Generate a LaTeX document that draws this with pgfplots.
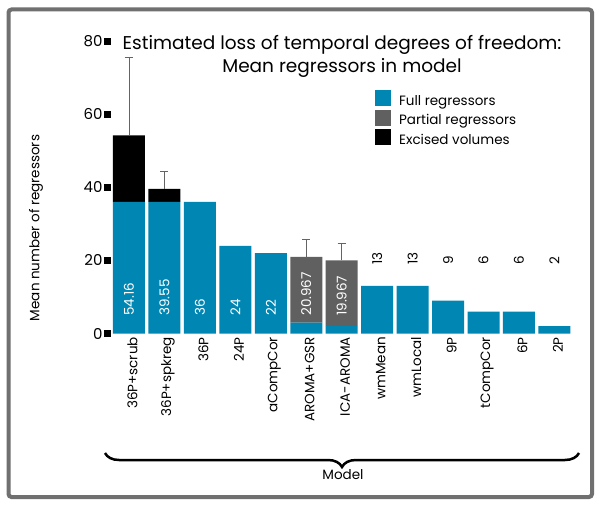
\documentclass[border=0pt]{standalone}
\usepackage{pgfplots}
\pgfplotsset{compat=1.18}
\usepackage{fontspec}
\setmainfont{Poppins}
\usetikzlibrary{decorations.pathreplacing}
\definecolor{fullc}{RGB}{0,134,179}
\definecolor{partc}{RGB}{96,96,96}
\definecolor{framec}{RGB}{112,112,112}
\definecolor{errc}{RGB}{100,100,100}

\begin{document}
\begin{tikzpicture}[x=1pt,y=1pt]
\fill[white] (0,0) rectangle (604,506);
\useasboundingbox (0,0) rectangle (604,506);
\draw[framec, line width=4pt, rounded corners=3pt] (8.5,9) rectangle (592,496.5);

\pgfplotsset{mybase/.style={
  at={(107.7pt,172.5pt)}, anchor=south west,
  scale only axis, width=468pt, height=292.5pt,
  xmin=-0.6, xmax=12.6, ymin=0, ymax=80,
  clip=false,
  axis line style={draw=none},
  /pgf/number format/assume math mode=true,
}}

\begin{axis}[mybase, ybar stacked, bar width=32pt,
  axis y line*=left, axis x line*=bottom,
  xtick={0,...,12},
  xtick style={draw=none},
  xticklabels={36P+scrub,36P+spkreg,36P,24P,aCompCor,AROMA+GSR,ICA-AROMA,wmMean,wmLocal,9P,tCompCor,6P,2P},
  xticklabel style={rotate=90, anchor=east, font=\fontsize{13.5}{15}\selectfont, inner sep=0pt, yshift=-3.5pt},
  ytick={0,20,40,60,80},
  ytick style={draw=black, line width=7pt, line cap=butt},
  major tick length=7pt, tick align=center,
  yticklabel style={font=\fontsize{15}{16}\selectfont, anchor=east, inner sep=0pt, xshift=-1.5pt},
  legend image code/.code={\fill[#1] (0pt,-4.5pt) rectangle (16pt,11.5pt);},
  legend style={at={(0.571,0.8325)}, anchor=north west, draw=none, fill=none,
    inner sep=0pt, row sep=0pt, column sep=8pt, cells={anchor=west},
    nodes={inner sep=0pt, text height=11.5pt, text depth=4.5pt, font=\fontsize{13.5}{15}\selectfont}},
]
\addplot[fill=fullc, draw=none] coordinates {(0,36)(1,36)(2,36)(3,24)(4,22)(5,3)(6,2)(7,13)(8,13)(9,9)(10,6)(11,6)(12,2)};
\addplot[fill=partc, draw=none] coordinates {(0,0)(1,0)(2,0)(3,0)(4,0)(5,17.967)(6,17.967)(7,0)(8,0)(9,0)(10,0)(11,0)(12,0)};
\addplot[fill=black, draw=none] coordinates {(0,18.16)(1,3.55)(2,0)(3,0)(4,0)(5,0)(6,0)(7,0)(8,0)(9,0)(10,0)(11,0)(12,0)};
\legend{Full regressors, Partial regressors, Excised volumes}
\end{axis}

\begin{axis}[mybase, hide axis]
\addplot[draw=none, mark=none,
  error bars/.cd, y dir=plus, y explicit, error mark=|,
  error bar style={draw=errc, line width=0.9pt},
  error mark options={draw=errc, line width=0.9pt, mark size=4pt}]
  coordinates {(0,54.16) +- (0,21.3) (1,39.55) +- (0,4.75) (5,20.967) +- (0,4.7) (6,19.967) +- (0,4.6)};
\addplot[draw=none, mark=none, nodes near coords, point meta=explicit symbolic,
  every node near coord/.append style={rotate=90, anchor=west, inner sep=0pt, text=white, font=\fontsize{13.5}{15}\selectfont}]
  coordinates {(0,4.8)[54.16] (1,4.8)[39.55] (2,4.8)[36] (3,4.8)[24] (4,4.8)[22] (5,4.8)[20.967] (6,4.8)[19.967]};
\addplot[draw=none, mark=none, nodes near coords, point meta=explicit symbolic,
  every node near coord/.append style={rotate=90, anchor=west, inner sep=0pt, text=black, font=\fontsize{13.5}{15}\selectfont}]
  coordinates {(7,18.7)[13] (8,18.7)[13] (9,18.7)[9] (10,18.7)[6] (11,18.7)[6] (12,18.7)[2]};
\end{axis}

\node[rotate=90, font=\fontsize{13.5}{15}\selectfont] at (36,278) {Mean number of regressors};
\node[anchor=base, font=\fontsize{18.5}{20}\selectfont] at (342,456) {Estimated loss of temporal degrees of freedom:};
\node[anchor=base, font=\fontsize{18.5}{20}\selectfont] at (342,433) {Mean regressors in model};
\draw[decorate, decoration={brace, mirror, amplitude=14pt}, line width=2.5pt] (105,53) -- (579,53);
\node[font=\fontsize{13.5}{15}\selectfont] at (343,31) {Model};
\end{tikzpicture}
\end{document}
